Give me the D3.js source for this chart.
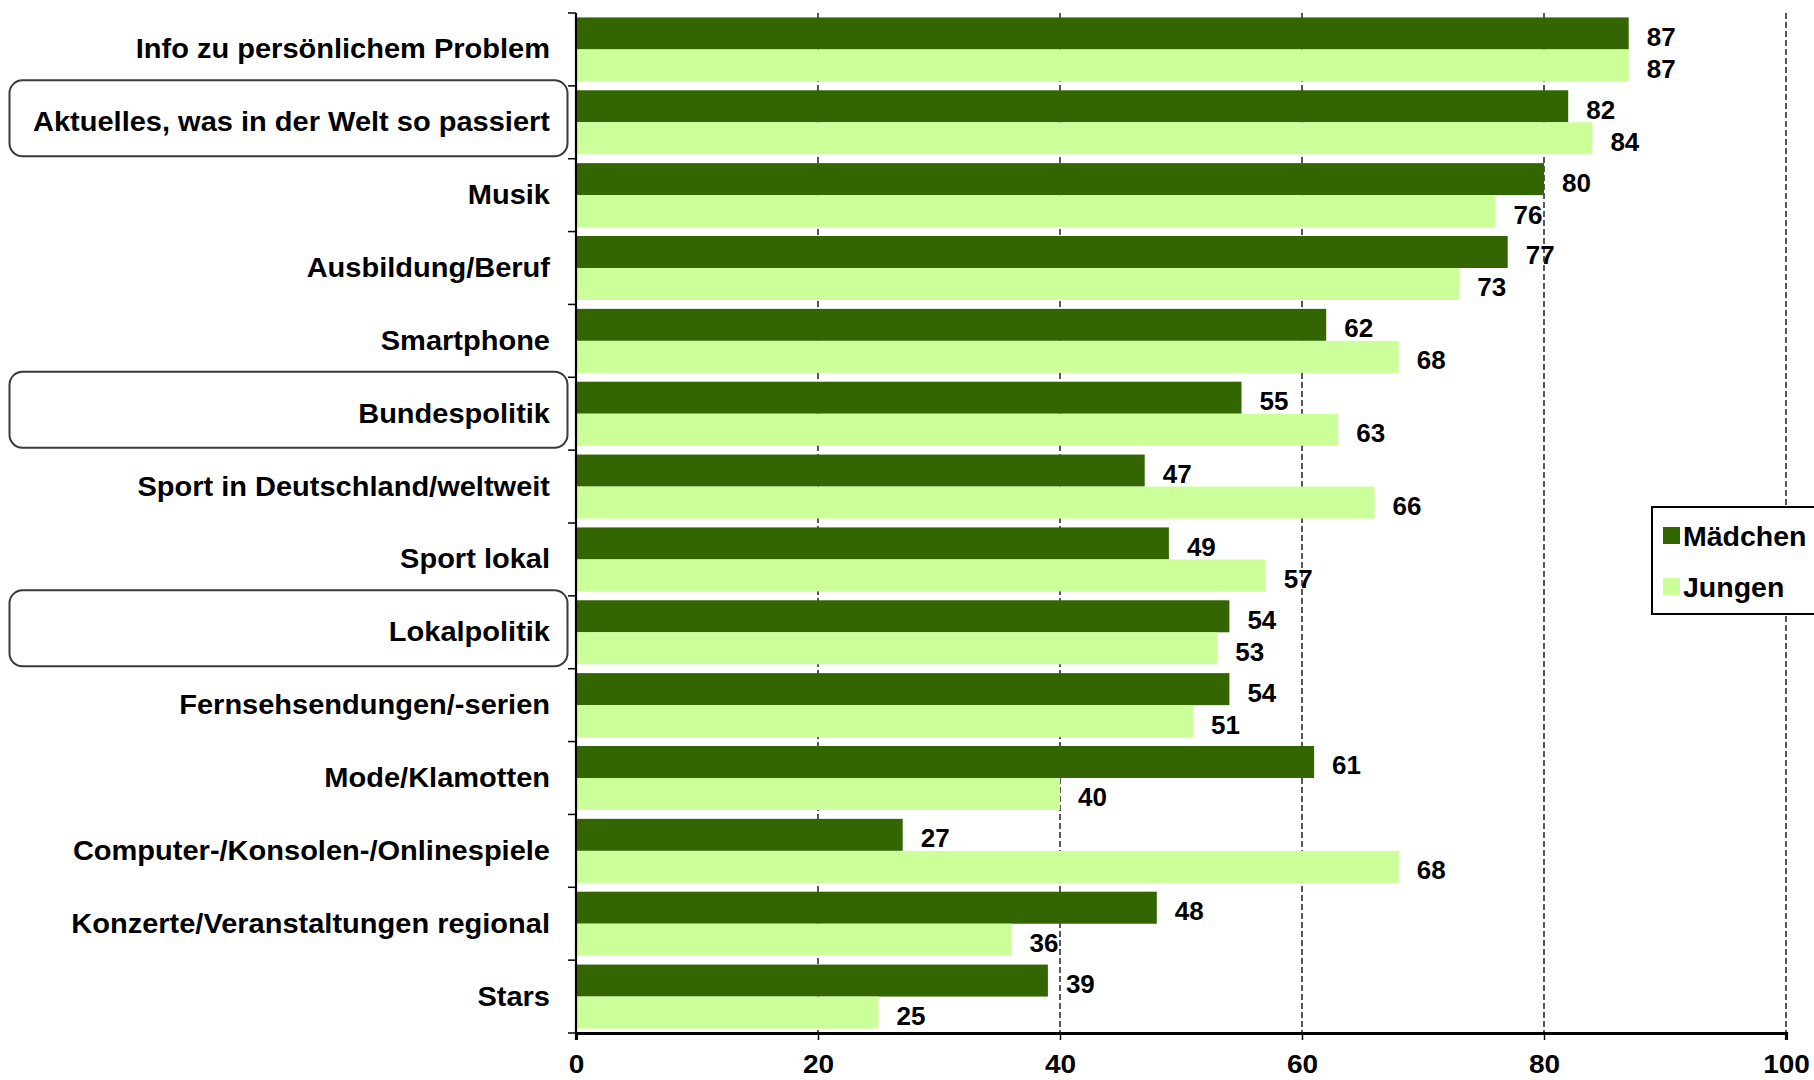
<!DOCTYPE html>
<html>
<head>
<meta charset="utf-8">
<script src="https://cdn.jsdelivr.net/npm/d3@7"></script>
<style>
  html, body { margin: 0; padding: 0; background: #fff; }
  svg { display: block; }
  text { font-family: "Liberation Sans", Arial, sans-serif; font-weight: bold; fill: #000; }
</style>
</head>
<body>
<svg id="chart" width="1814" height="1080"></svg>
<script>
const categories = [
  "Info zu persönlichem Problem",
  "Aktuelles, was in der Welt so passiert",
  "Musik",
  "Ausbildung/Beruf",
  "Smartphone",
  "Bundespolitik",
  "Sport in Deutschland/weltweit",
  "Sport lokal",
  "Lokalpolitik",
  "Fernsehsendungen/-serien",
  "Mode/Klamotten",
  "Computer-/Konsolen-/Onlinespiele",
  "Konzerte/Veranstaltungen regional",
  "Stars"
];
const seriesNames = ["Mädchen", "Jungen"];
const maedchen = [87, 82, 80, 77, 62, 55, 47, 49, 54, 54, 61, 27, 48, 39];
const jungen   = [87, 84, 76, 73, 68, 63, 66, 57, 53, 51, 40, 68, 36, 25];
const highlighted = ["Aktuelles, was in der Welt so passiert", "Bundespolitik", "Lokalpolitik"];
const xTicks = [0, 20, 40, 60, 80, 100];
const colors = { "Mädchen": "#336600", "Jungen": "#CCFF99" };

(function () {
const svg = d3.select("#chart");
const pLeft = 576, pRight = 1786, pTop = 13, pBottom = 1033;

const x = d3.scaleLinear().domain([0, 100]).range([pLeft, pRight]);
const y0 = d3.scaleBand().domain(categories).range([pTop, pBottom]).padding(0);
const y1 = d3.scaleBand().domain(seriesNames).range([0, y0.bandwidth()]).paddingInner(0).paddingOuter(0.138);

const rows = categories.map((c, i) => ({ cat: c, values: [
  { s: "Mädchen", v: maedchen[i] },
  { s: "Jungen", v: jungen[i] }
]}));

// highlight boxes
svg.append("g").selectAll("rect")
  .data(highlighted).join("rect")
  .attr("x", 9.5).attr("y", d => y0(d) - 5.5)
  .attr("width", 558).attr("height", 76)
  .attr("rx", 13).attr("ry", 13)
  .attr("fill", "none").attr("stroke", "#3a3a3a").attr("stroke-width", 2);

// gridlines
svg.append("g").selectAll("line")
  .data(xTicks.filter(t => t > 0)).join("line")
  .attr("x1", d => x(d)).attr("x2", d => x(d))
  .attr("y1", pTop).attr("y2", pBottom)
  .attr("stroke", "#000").attr("stroke-width", 1.3)
  .attr("stroke-dasharray", "6,3");

// bars
const g = svg.append("g").selectAll("g").data(rows).join("g")
  .attr("transform", d => `translate(0,${y0(d.cat)})`);
g.selectAll("rect").data(d => d.values).join("rect")
  .attr("x", x(0)).attr("y", d => y1(d.s))
  .attr("width", d => x(d.v) - x(0)).attr("height", y1.bandwidth())
  .attr("fill", d => colors[d.s]);
g.selectAll("text").data(d => d.values).join("text")
  .attr("x", d => x(d.v) + 18)
  .attr("y", d => y1(d.s) + y1.bandwidth() / 2 + 12.5)
  .attr("font-size", "26px")
  .text(d => d.v);

// category labels
svg.append("g").selectAll("g")
  .data(categories).join("g")
  .attr("transform", d => `translate(550,${y0(d) + y0.bandwidth() / 2 + 9}) scale(1.075,1)`)
  .append("text")
  .attr("text-anchor", "end")
  .attr("font-size", "27px")
  .text(d => d);

// left axis
const yAxisG = svg.append("g");
yAxisG.append("line").attr("x1", pLeft).attr("x2", pLeft).attr("y1", pTop).attr("y2", pBottom)
  .attr("stroke", "#000").attr("stroke-width", 2.2);
yAxisG.selectAll("line.tick")
  .data(categories.map(c => y0(c)).concat([pBottom])).join("line")
  .attr("class", "tick")
  .attr("x1", pLeft - 8).attr("x2", pLeft).attr("y1", d => d).attr("y2", d => d)
  .attr("stroke", "#000").attr("stroke-width", 1.5);

// bottom axis
const xAxis = d3.axisBottom(x).tickValues(xTicks).tickSize(7).tickPadding(15);
const xg = svg.append("g").attr("transform", `translate(0,${pBottom})`).call(xAxis);
xg.select(".domain").attr("stroke", "#000").attr("stroke-width", 3.2);
xg.selectAll(".tick line").attr("stroke", "#000").attr("stroke-width", 1.5);
xg.selectAll(".tick text")
  .attr("font-size", "25px")
  .attr("font-family", "'Liberation Sans', Arial, sans-serif")
  .attr("font-weight", "bold")
  .attr("fill", "#000")
  .attr("transform", "scale(1.12,1)");

// legend
const lg = svg.append("g");
lg.append("rect").attr("x", 1652).attr("y", 507).attr("width", 165).attr("height", 107)
  .attr("fill", "#fff").attr("stroke", "#000").attr("stroke-width", 2);
seriesNames.forEach((s, i) => {
  const yy = 527 + i * 51;
  lg.append("rect").attr("x", 1663).attr("y", yy).attr("width", 17).attr("height", 17)
    .attr("fill", colors[s]);
  lg.append("text").attr("x", 1683).attr("y", yy + 18.5)
    .attr("font-size", "28.5px").text(s);
});
})();
</script>
</body>
</html>
